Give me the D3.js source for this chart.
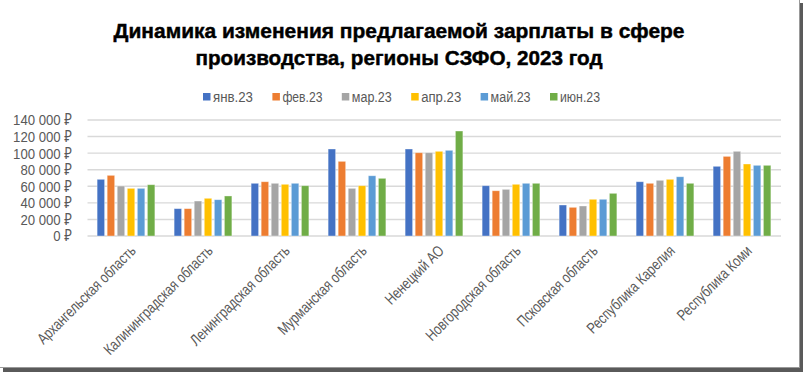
<!DOCTYPE html>
<meta charset="utf-8">
<script src="https://cdn.jsdelivr.net/npm/d3@7"></script>
<style>
body { margin: 0; background: #fff; }
text { font-family: "Liberation Sans Narrow", "Liberation Sans", Arial, "Noto Sans", sans-serif; fill: #595959; }
.title { font-family: "Liberation Sans Narrow", "Liberation Sans", Arial, sans-serif; font-weight: bold; fill: #000; stroke: #000; stroke-width: 0.45px; }
.grid line { stroke: #d9d9d9; stroke-width: 1.4px; }
</style>
<body>
<script>
var regions = ["Архангельская область", "Калининградская область", "Ленинградская область",
  "Мурманская область", "Ненецкий АО", "Новгородская область", "Псковская область",
  "Республика Карелия", "Республика Коми"];
var months = ["янв.23", "фев.23", "мар.23", "апр.23", "май.23", "июн.23"];
var colors = ["#4472C4", "#ED7D31", "#A5A5A5", "#FFC000", "#5B9BD5", "#70AD47"];

var jan = [68400, 33000, 63600, 105000, 105000, 60700, 37400, 65500, 84100];
var feb = [73200, 33000, 65500, 90100, 100500, 54600, 34600, 63600, 96100];
var mar = [60300, 42200, 63600, 57500, 100500, 56300, 36200, 67200, 102200];
var apr = [57500, 45500, 62400, 60700, 102200, 62400, 44300, 68400, 86900];
var may = [57500, 43800, 63600, 72700, 103400, 63600, 44300, 71500, 85300];
var jun = [61900, 48300, 60700, 69600, 126700, 63600, 51500, 63600, 85300];
var series = [jan, feb, mar, apr, may, jun];

var yTicks = [0, 20000, 40000, 60000, 80000, 100000, 120000, 140000];
var titleLines = ["Динамика изменения предлагаемой зарплаты в сфере",
  "производства, регионы СЗФО, 2023 год"];

var width = 804, height = 373;

var svg = d3.select("body").append("svg")
    .attr("width", width)
    .attr("height", height);

// frame shadow
svg.append("rect").attr("x", 799).attr("y", 3).attr("width", 4).attr("height", 369).attr("fill", "#5a5a5a");
svg.append("rect").attr("x", 3).attr("y", 368).attr("width", 800).attr("height", 4).attr("fill", "#5a5a5a");
svg.append("rect").attr("x", 0).attr("y", 0).attr("width", 799).attr("height", 368).attr("fill", "#fff");
svg.append("line").attr("x1", 799.5).attr("x2", 799.5).attr("y1", 0).attr("y2", 368).attr("stroke", "#999");
svg.append("line").attr("x1", 0).attr("x2", 799).attr("y1", 367.5).attr("y2", 367.5).attr("stroke", "#999");

var x0 = d3.scaleBand()
    .domain(regions)
    .range([87.5, 780.5])
    .paddingInner(0.25)
    .paddingOuter(0.125);

var x1 = d3.scaleBand()
    .domain(months)
    .range([0, x0.bandwidth()])
    .paddingInner(0.255);

var y = d3.scaleLinear()
    .domain([0, 140000])
    .range([236, 120]);

var fmt = function(v) { return d3.format(",")(v).replace(/,/g, " ") + " ₽"; };

// title
svg.selectAll(".title")
    .data(titleLines)
  .enter().append("text")
    .attr("class", "title")
    .attr("x", 399)
    .attr("y", function(d, i) { return 38 + i * 27; })
    .attr("text-anchor", "middle")
    .style("font-size", "21px")
    .attr("textLength", function(d, i) { return i == 0 ? 571 : 407; })
    .attr("lengthAdjust", "spacingAndGlyphs")
    .text(function(d) { return d; });

// legend
var legend = svg.append("g")
  .selectAll("g")
    .data(months)
  .enter().append("g")
    .attr("transform", function(d, i) { return "translate(" + (203 + i * 69.4) + ",93)"; });
legend.append("rect")
    .attr("width", 7.5)
    .attr("height", 7.5)
    .attr("fill", function(d, i) { return colors[i]; });
legend.append("text")
    .attr("x", 10)
    .attr("y", 4)
    .attr("dy", "0.35em")
    .style("font-size", "14px")
    .attr("textLength", 40)
    .attr("lengthAdjust", "spacingAndGlyphs")
    .text(function(d) { return d; });

// grid + y labels
var grid = svg.append("g").attr("class", "grid");
grid.selectAll("line")
    .data(yTicks)
  .enter().append("line")
    .attr("x1", 87.5)
    .attr("x2", 781)
    .attr("y1", function(d) { return y(d); })
    .attr("y2", function(d) { return y(d); });

var yl = svg.append("g")
  .selectAll("g")
    .data(yTicks)
  .enter().append("g")
    .attr("transform", function(d) { return "translate(72," + y(d) + ")"; });
yl.append("text")
    .attr("text-anchor", "end")
    .attr("dy", "0.35em")
    .style("font-size", "15.5px")
    .text(fmt);
var probe = yl.filter(function(d) { return d == 140000; }).select("text").node().getComputedTextLength();
var ys = 59 / probe;
yl.select("text").attr("transform", "scale(" + ys + ",1)");

// bars
var groups = svg.append("g")
  .selectAll("g")
    .data(regions)
  .enter().append("g")
    .attr("transform", function(d) { return "translate(" + x0(d) + ",0)"; });

groups.selectAll("rect")
    .data(function(d, ri) { return months.map(function(m, mi) { return {m: m, i: mi, v: series[mi][ri]}; }); })
  .enter().append("rect")
    .attr("x", function(d) { return x1(d.m); })
    .attr("y", function(d) { return y(d.v); })
    .attr("width", x1.bandwidth())
    .attr("height", function(d) { return y(0) - y(d.v); })
    .attr("fill", function(d) { return colors[d.i]; })
    .attr("stroke", "#fff")
    .attr("stroke-opacity", 0.45)
    .attr("stroke-width", 0.8);

// x labels
var xl = svg.append("g")
  .selectAll("g")
    .data(regions)
  .enter().append("g")
    .attr("transform", function(d) { return "translate(" + (x0(d) + x0.bandwidth() / 2 + 7) + ",248) rotate(-45)"; });
xl.append("text")
    .attr("text-anchor", "end")
    .attr("dy", "0.35em")
    .style("font-size", "15.5px")
    .text(function(d) { return d; });
var probe2 = xl.filter(function(d, i) { return i == 0; }).select("text").node().getComputedTextLength();
var xs = 132 / probe2;
xl.select("text").attr("transform", "scale(" + xs + ",1)");
</script>
</body>
</html>
